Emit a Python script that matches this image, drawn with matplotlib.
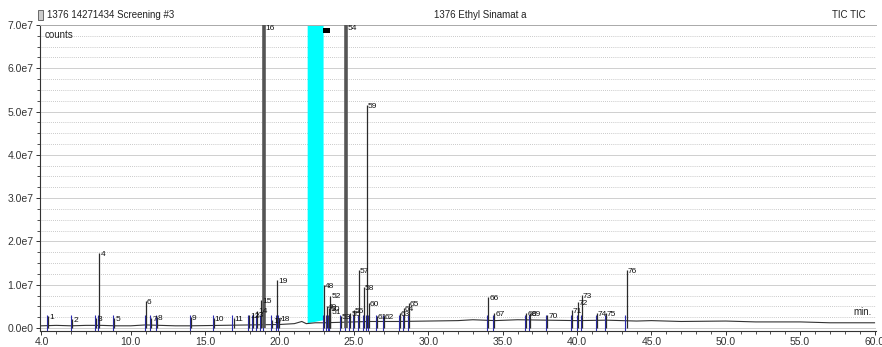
import matplotlib
matplotlib.use("Agg")
import matplotlib.pyplot as plt
from matplotlib.ticker import MultipleLocator, FuncFormatter
from matplotlib.patches import Rectangle

plt.rcParams['font.family'] = ['Liberation Sans', 'DejaVu Sans']

# labelled peaks: retention time (min), height (counts), label
peak_rt = [4.47, 6.07, 7.68, 7.88, 8.88, 11.02, 11.36, 11.76, 14.03, 15.57, 16.91,
           17.98, 18.25, 18.52, 18.78, 18.98, 19.52, 20.0, 19.85,
           23.0, 23.2, 23.33, 23.4, 23.4, 24.13, 24.47, 24.74, 25.0, 25.34, 25.67,
           25.87, 26.0, 26.54, 27.0, 28.08, 28.35, 28.68, 34.03, 34.43, 36.58,
           36.84, 37.98, 39.65, 40.05, 40.32, 41.32, 41.93, 43.33]
peak_h = [0.28e7, 0.2e7, 0.22e7, 1.73e7, 0.22e7, 0.62e7, 0.22e7, 0.26e7, 0.26e7,
          0.22e7, 0.22e7, 0.3e7, 0.32e7, 0.4e7, 0.65e7, 9.0e7, 0.18e7, 0.22e7, 1.1e7,
          1.0e7, 0.5e7, 0.45e7, 0.38e7, 0.75e7, 0.28e7, 9.0e7, 0.35e7, 0.42e7, 1.33e7,
          0.95e7, 5.15e7, 0.58e7, 0.28e7, 0.28e7, 0.35e7, 0.45e7, 0.58e7, 0.72e7,
          0.35e7, 0.35e7, 0.35e7, 0.3e7, 0.42e7, 0.6e7, 0.76e7, 0.35e7, 0.35e7, 1.33e7]
peak_lbl = ["1", "2", "3", "4", "5", "6", "7", "8", "9", "10", "11",
            "12", "13", "14", "15", "16", "17", "18", "19",
            "48", "49", "50", "51", "52", "53", "54", "55", "56", "57", "58",
            "59", "60", "61", "62", "63", "64", "65", "66", "67", "68",
            "69", "70", "71", "72", "73", "74", "75", "76"]

# baseline of the TIC trace
base_rt = [4, 5, 6, 7, 8, 9, 10, 11, 12, 13, 14, 16, 18, 20, 21, 21.5, 21.8, 22.4,
           23, 24, 25, 26, 28, 30, 32, 33, 34.5, 36, 38, 40, 42, 44, 45, 47, 50,
           52, 55, 57, 60]
base_lvl = [0.05e7, 0.06e7, 0.05e7, 0.06e7, 0.06e7, 0.05e7, 0.05e7, 0.07e7, 0.06e7,
            0.05e7, 0.05e7, 0.06e7, 0.07e7, 0.08e7, 0.1e7, 0.15e7, 0.1e7, 0.12e7,
            0.12e7, 0.13e7, 0.14e7, 0.15e7, 0.15e7, 0.16e7, 0.17e7, 0.19e7, 0.17e7,
            0.19e7, 0.18e7, 0.17e7, 0.18e7, 0.16e7, 0.17e7, 0.15e7, 0.16e7, 0.14e7,
            0.14e7, 0.12e7, 0.12e7]

# highlighted (cyan) window and marker
band_rt = [21.86, 22.93]
band_low = [0.12e7, 0.19e7]
flag_rt = [22.93, 23.4]
flag_y = [6.82e7, 6.93e7]

W, H = 882, 347
fig = plt.figure(figsize=(W / 100, H / 100), dpi=100)
ax = fig.add_axes([40 / W, 16 / H, 836 / W, 306 / H])

ax.plot(base_rt, base_lvl, color='#333333', lw=0.8)

ax.fill_between(band_rt, band_low, 7.2e7, color='#00ffff', lw=0)
ax.add_patch(Rectangle((flag_rt[0], flag_y[0]), flag_rt[1] - flag_rt[0],
                       flag_y[1] - flag_y[0], color='black', lw=0))

for rt, h, lb in zip(peak_rt, peak_h, peak_lbl):
    big = h > 7e7
    ax.vlines(rt, 0, h, color='#555555' if big else '#2a2a2a',
              lw=2.6 if big else 0.9, zorder=3)
    ax.vlines(rt - 0.07, -0.07e7, 0.3e7, color='#2b2bb0', lw=0.8, zorder=2)
    ax.text(rt + 0.08, min(h, 6.95e7) + 0.05e7, lb, fontsize=6, ha='left',
            va='top', color='#111111', zorder=4)

ax.set_xlim(3.9, 60.1)
ax.set_ylim(-0.07e7, 7.0e7)
ax.xaxis.set_minor_locator(MultipleLocator(1))
ax.set_xticks([4, 10, 15, 20, 25, 30, 35, 40, 45, 50, 55, 60])
ax.xaxis.set_major_formatter(FuncFormatter(lambda v, p: f"{v:.1f}"))
ax.yaxis.set_major_locator(MultipleLocator(1e7))
ax.yaxis.set_minor_locator(MultipleLocator(0.25e7))
ax.yaxis.set_major_formatter(FuncFormatter(lambda v, p: f"{v / 1e7:.1f}e7" if v else "0.0e0"))
ax.tick_params(labelsize=7.5, colors='#333333', length=3, width=0.7, pad=1.5)
ax.tick_params(which='minor', length=2, width=0.6, colors='#333333')

ax.grid(axis='y', which='major', color='#c8c8c8', lw=0.6, ls='-')
ax.grid(axis='y', which='minor', color='#b8b8b8', lw=0.6, ls=(0, (1, 1.5)))
ax.set_axisbelow(True)

ax.spines['right'].set_visible(False)
ax.spines['top'].set_color('#aaaaaa')
ax.spines['top'].set_linewidth(0.7)
ax.spines['left'].set_color('#333333')
ax.spines['bottom'].set_color('#333333')

ax.text(0.006, 0.985, "counts", transform=ax.transAxes, fontsize=7,
        ha='left', va='top', color='#222222')
ax.text(0.995, 0.045, "min.", transform=ax.transAxes, fontsize=7,
        ha='right', va='bottom', color='#222222')

# header
fig.add_artist(Rectangle((38 / W, 1 - 20 / H), 5 / W, 10 / H, facecolor='#cccccc',
                         edgecolor='#555555', lw=0.6))
fig.text(47 / W, 1 - 15 / H, "1376 14271434 Screening #3", fontsize=7,
         ha='left', va='center', color='#222222')
fig.text(480 / W, 1 - 15 / H, "1376 Ethyl Sinamat a", fontsize=7,
         ha='center', va='center', color='#222222')
fig.text(866 / W, 1 - 15 / H, "TIC TIC", fontsize=7,
         ha='right', va='center', color='#222222')

fig.savefig("out.png", dpi=100)
